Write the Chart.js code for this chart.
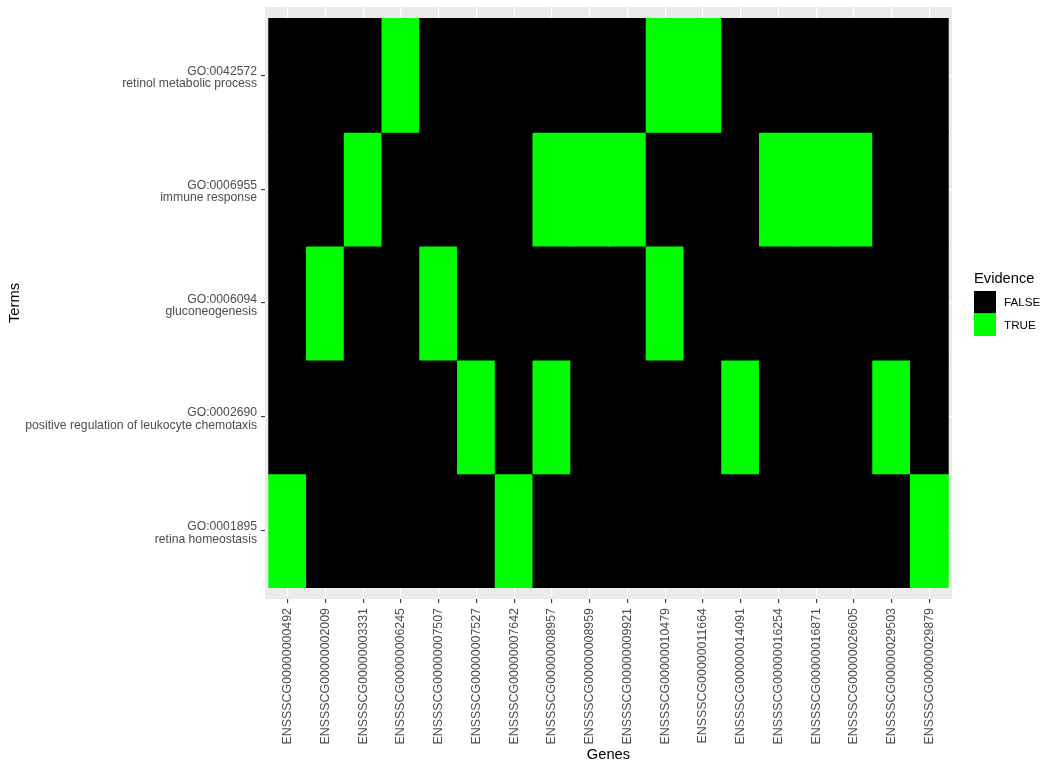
<!DOCTYPE html>
<html>
<head>
<meta charset="utf-8">
<script src="https://cdn.jsdelivr.net/npm/chart.js@4.4.0/dist/chart.umd.min.js"></script>
<style>
  html, body { margin: 0; padding: 0; background: #fff; }
  #wrap { width: 1056px; height: 768px; }
</style>
</head>
<body>
<div id="wrap"><canvas id="heatmap"></canvas></div>
<script>
// Genes along the x axis
const genes = [
  'ENSSSCG00000000492', 'ENSSSCG00000002009', 'ENSSSCG00000003331', 'ENSSSCG00000006245',
  'ENSSSCG00000007507', 'ENSSSCG00000007527', 'ENSSSCG00000007642', 'ENSSSCG00000008957',
  'ENSSSCG00000008959', 'ENSSSCG00000009921', 'ENSSSCG00000010479', 'ENSSSCG00000011664',
  'ENSSSCG00000014091', 'ENSSSCG00000016254', 'ENSSSCG00000016871', 'ENSSSCG00000026605',
  'ENSSSCG00000029503', 'ENSSSCG00000029879'
];

// Terms, listed top to bottom
const termIds = ['GO:0042572', 'GO:0006955', 'GO:0006094', 'GO:0002690', 'GO:0001895'];
const termNames = [
  'retinol metabolic process',
  'immune response',
  'gluconeogenesis',
  'positive regulation of leukocyte chemotaxis',
  'retina homeostasis'
];

// Evidence per term (1 = TRUE, 0 = FALSE), one value per gene
const retinolMetabolic = [0,0,0,1,0,0,0,0,0,0,1,1,0,0,0,0,0,0];
const immuneResponse   = [0,0,1,0,0,0,0,1,1,1,0,0,0,1,1,1,0,0];
const gluconeogenesis  = [0,1,0,0,1,0,0,0,0,0,1,0,0,0,0,0,0,0];
const leukocyteChemo   = [0,0,0,0,0,1,0,1,0,0,0,0,1,0,0,0,1,0];
const retinaHomeo      = [1,0,0,0,0,0,1,0,0,0,0,0,0,0,0,0,0,1];
const evidence = [retinolMetabolic, immuneResponse, gluconeogenesis, leukocyteChemo, retinaHomeo];

const legendLabels = ['FALSE', 'TRUE'];
const legendColors = ['#000000', '#00FF00'];

const FONT = "'Liberation Sans', Arial, sans-serif";
const TEXT_GREY = '#4D4D4D';
const nTerms = termIds.length;
const rowPos = i => nTerms - 1 - i;   // top term gets the highest y

const datasets = termIds.map((id, i) => ({
  label: id,
  data: genes.map((g, j) => ({ x: j, y: [rowPos(i) - 0.5, rowPos(i) + 0.5] })),
  backgroundColor: evidence[i].map(v => legendColors[v]),
  borderWidth: 0,
  inflateAmount: 0.5,
  grouped: false,
  barPercentage: 1,
  categoryPercentage: 1
}));

// grey panel behind the tiles
const panelBg = {
  id: 'panelBg',
  beforeDraw(chart) {
    const { ctx, chartArea: a } = chart;
    ctx.save();
    ctx.fillStyle = '#EBEBEB';
    ctx.fillRect(a.left, a.top, a.right - a.left, a.bottom - a.top);
    ctx.restore();
  }
};

// ggplot style legend on the right
const evidenceLegend = {
  id: 'evidenceLegend',
  afterDraw(chart) {
    const { ctx, chartArea: a } = chart;
    const x = a.right + 22;
    const key = 22.5;
    const top = (a.top + a.bottom) / 2 - 30;
    ctx.save();
    ctx.fillStyle = '#000';
    ctx.font = `14.7px ${FONT}`;
    ctx.textBaseline = 'alphabetic';
    ctx.fillText('Evidence', x, top + 10);
    ctx.font = `11.7px ${FONT}`;
    ctx.textBaseline = 'middle';
    legendLabels.forEach((lab, k) => {
      const y = top + 18 + k * key;
      ctx.fillStyle = legendColors[k];
      ctx.fillRect(x, y, 22, key);
      ctx.fillStyle = '#000';
      ctx.fillText(lab, x + 30, y + key / 2 + 1);
    });
    ctx.restore();
  }
};

new Chart(document.getElementById('heatmap'), {
  type: 'bar',
  data: { datasets },
  plugins: [panelBg, evidenceLegend],
  options: {
    responsive: true,
    maintainAspectRatio: false,
    animation: false,
    layout: { padding: { top: 7, right: 104, left: 0, bottom: 0 } },
    plugins: {
      legend: { display: false },
      tooltip: { enabled: false }
    },
    scales: {
      x: {
        type: 'linear',
        offset: false,
        min: -0.6,
        max: genes.length - 0.4,
        afterBuildTicks: axis => { axis.ticks = genes.map((g, j) => ({ value: j })); },
        afterFit: axis => {
          axis.height = 169;
          axis.paddingLeft = 0;
          axis.paddingRight = 0;
        },
        grid: { offset: false, color: '#FFFFFF', lineWidth: 1.2, tickColor: '#333333', tickLength: 4, tickWidth: 1.1 },
        border: { display: false },
        ticks: {
          autoSkip: false,
          minRotation: 90,
          maxRotation: 90,
          padding: 5,
          color: TEXT_GREY,
          font: { family: FONT, size: 12.4 },
          callback: v => genes[v]
        },
        title: {
          display: true,
          text: 'Genes',
          color: '#000',
          font: { family: FONT, size: 14.7 },
          padding: { top: 0, bottom: 4 }
        }
      },
      y: {
        type: 'linear',
        min: -0.6,
        max: nTerms - 0.4,
        afterBuildTicks: axis => { axis.ticks = termIds.map((t, i) => ({ value: rowPos(i) })); },
        afterFit: axis => {
          axis.width = 265;
          axis.paddingTop = 0;
          axis.paddingBottom = 0;
        },
        grid: { color: '#FFFFFF', lineWidth: 1.2, tickColor: '#333333', tickLength: 4, tickWidth: 1.1 },
        border: { display: false },
        ticks: {
          padding: 4,
          labelOffset: 2.5,
          color: TEXT_GREY,
          font: { family: FONT, size: 12.2, lineHeight: 1.03 },
          callback: v => {
            const i = nTerms - 1 - v;
            return [termIds[i], termNames[i]];
          }
        },
        title: {
          display: true,
          text: 'Terms',
          color: '#000',
          font: { family: FONT, size: 14.7 },
          padding: { top: 6, bottom: 0 }
        }
      }
    }
  }
});
</script>
</body>
</html>
